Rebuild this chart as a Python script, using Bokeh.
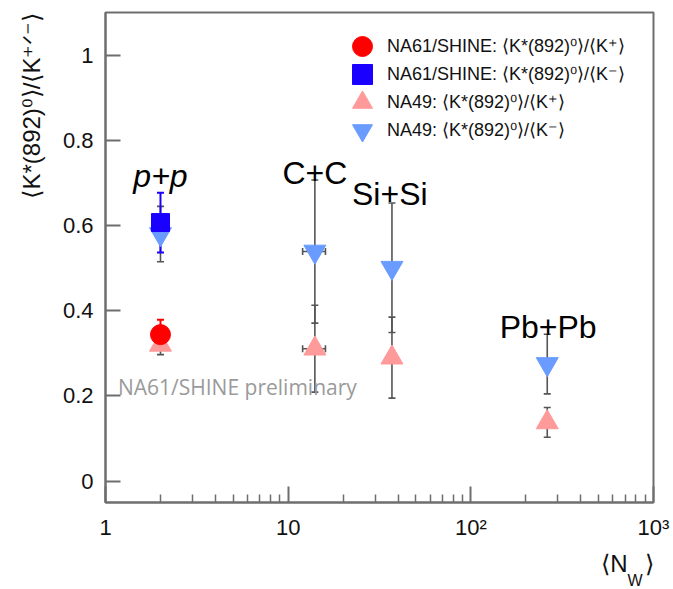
from bokeh.plotting import figure
from bokeh.models import (ColumnDataSource, Whisker, TeeHead, FixedTicker, Label,
                          Legend, LegendItem, Title)
from bokeh.embed import file_html
from bokeh.resources import INLINE

# Collision systems and mean number of wounded nucleons
systems = ["p+p", "C+C", "Si+Si", "Pb+Pb"]
n_wounded = [2.0, 14.0, 37.0, 262.0]
n_wounded_err = [0.0, 2.0, 0.0, 0.0]

# NA61/SHINE p+p ratios
na61_kplus = [0.344]
na61_kplus_err = [0.035]
na61_kminus = [0.607]
na61_kminus_err = [0.070]

# NA49 ratios
na49_kplus = [0.320, 0.311, 0.290, 0.138]
na49_kplus_err = [0.023, 0.102, 0.095, 0.035]
na49_kminus = [0.580, 0.539, 0.501, 0.275]
na49_kminus_err = [0.065, 0.168, 0.152, 0.070]

# System label anchors (x in N_W, y baseline in ratio units)
label_x = [2.0, 14.0, 36.0, 265.0]
label_y = [0.717, 0.724, 0.674, 0.361]

x_ticks = [1, 10, 100, 1000]
x_tick_labels = ["1", "10", "10\u00b2", "10\u00b3"]
y_ticks = [0, 0.2, 0.4, 0.6, 0.8, 1.0]
y_tick_labels = ["0", "0.2", "0.4", "0.6", "0.8", "1"]

RED = "#ff0000"
BLUE = "#1a00ff"
PINK = "#ff9a9a"
LIGHTBLUE = "#6a9cff"
BAR = "#555555"
FRAME = "#6e6e6e"
INK = "#111111"
FONT = "Liberation Sans"

p = figure(width=673, height=589, x_axis_type="log",
           x_range=(1, 1000), y_range=(-0.05, 1.1),
           output_backend="svg", toolbar_location=None,
           min_border_left=105, min_border_right=20,
           min_border_top=12, min_border_bottom=87)
p.grid.visible = False
p.outline_line_color = FRAME
p.outline_line_width = 2

# axes
minor = [m * d for d in (1, 10, 100) for m in range(2, 10)]
p.xaxis.ticker = FixedTicker(ticks=x_ticks, minor_ticks=minor)
p.xaxis.major_label_overrides = {t: s for t, s in zip(x_ticks, x_tick_labels)}
p.yaxis.ticker = FixedTicker(ticks=y_ticks)
p.yaxis.major_label_overrides = {t: s for t, s in zip(y_ticks, y_tick_labels)}
for ax in (p.xaxis, p.yaxis):
    ax.axis_line_color = FRAME
    ax.axis_line_width = 2
    ax.major_tick_line_color = FRAME
    ax.major_tick_line_width = 2
    ax.minor_tick_line_color = FRAME
    ax.minor_tick_line_width = 1.5
    ax.major_tick_out = 0
    ax.minor_tick_out = 0
    ax.major_label_text_font = FONT
    ax.major_label_text_font_size = "22px"
    ax.major_label_text_color = INK
p.xaxis.major_tick_in = 16
p.xaxis.minor_tick_in = 8
p.xaxis.major_label_standoff = 12
p.yaxis.major_tick_in = 15
p.yaxis.minor_tick_line_color = None
p.yaxis.major_label_standoff = 12

# data sources
src_na49_p = ColumnDataSource(dict(
    x=n_wounded, y=na49_kplus,
    lo=[v - e for v, e in zip(na49_kplus, na49_kplus_err)],
    hi=[v + e for v, e in zip(na49_kplus, na49_kplus_err)]))
src_na49_m = ColumnDataSource(dict(
    x=n_wounded, y=na49_kminus,
    lo=[v - e for v, e in zip(na49_kminus, na49_kminus_err)],
    hi=[v + e for v, e in zip(na49_kminus, na49_kminus_err)]))

xerr_rows = [i for i, e in enumerate(n_wounded_err) if e > 0]
src_xerr = ColumnDataSource(dict(
    y=[na49_kminus[i] for i in xerr_rows] + [na49_kplus[i] for i in xerr_rows],
    lo=[n_wounded[i] - n_wounded_err[i] for i in xerr_rows] * 2,
    hi=[n_wounded[i] + n_wounded_err[i] for i in xerr_rows] * 2))

src_na61_p = ColumnDataSource(dict(
    x=n_wounded[:1], y=na61_kplus,
    lo=[na61_kplus[0] - na61_kplus_err[0]], hi=[na61_kplus[0] + na61_kplus_err[0]]))
src_na61_m = ColumnDataSource(dict(
    x=n_wounded[:1], y=na61_kminus,
    lo=[na61_kminus[0] - na61_kminus_err[0]], hi=[na61_kminus[0] + na61_kminus_err[0]]))


def whisker(src, color, dim="height", base="x", width=1.6):
    w = Whisker(source=src, base=base, lower="lo", upper="hi", dimension=dim,
                line_color=color, line_width=width,
                upper_head=TeeHead(size=7, line_color=color, line_width=width),
                lower_head=TeeHead(size=7, line_color=color, line_width=width))
    p.add_layout(w)


# preliminary tag sits under the error bars
p.add_layout(Label(x=1.17, y=0.222, text="NA61/SHINE preliminary",
                   text_font="Open Sans", text_font_size="21px",
                   text_color="#9a9a9a", text_baseline="middle"))

whisker(src_na49_m, BAR)
whisker(src_na49_p, BAR)
whisker(src_xerr, BAR, dim="width", base="y")

r_na49_m = p.scatter("x", "y", source=src_na49_m, marker="inverted_triangle",
                     size=22, color=LIGHTBLUE)
r_na49_p = p.scatter("x", "y", source=src_na49_p, marker="triangle",
                     size=22, color=PINK)

whisker(src_na61_m, BLUE, width=2)
whisker(src_na61_p, RED, width=2)
r_na61_m = p.scatter("x", "y", source=src_na61_m, marker="square",
                     size=18, color=BLUE)
r_na61_p = p.scatter("x", "y", source=src_na61_p, marker="circle",
                     size=20, color=RED)

# system labels
for name, lx, ly in zip(systems, label_x, label_y):
    p.add_layout(Label(x=lx, y=ly, text=name, text_font=FONT,
                       text_font_size="32px", text_align="center",
                       text_color="#000000", text_baseline="alphabetic",
                       text_font_style="italic" if name == "p+p" else "normal"))

# one single-row legend per entry keeps the rows tight with large markers
ratio = "\u27e8K*(892)\u2070\u27e9/\u27e8K{}\u27e9"
entries = [
    ("NA61/SHINE: " + ratio.format("\u207a"), r_na61_p),
    ("NA61/SHINE: " + ratio.format("\u207b"), r_na61_m),
    ("NA49: " + ratio.format("\u207a"), r_na49_p),
    ("NA49: " + ratio.format("\u207b"), r_na49_m),
]
for row, (text, rend) in enumerate(entries):
    p.add_layout(Legend(items=[LegendItem(label=text, renderers=[rend])],
                        location=(232, 431 - 28 * row),
                        glyph_width=50, glyph_height=50, padding=0, margin=0,
                        label_standoff=0, label_text_font=FONT,
                        label_text_font_size="18px", label_text_color=INK,
                        border_line_color=None, background_fill_alpha=0))

# axis titles
p.add_layout(Title(text="\u27e8K*(892)\u2070\u27e9/\u27e8K\u207a\u141f\u207b\u27e9",
                   align="right", text_font=FONT, text_font_size="24px",
                   text_font_style="normal", text_color=INK, standoff=30),
             "left")
p.add_layout(Title(text="\u27e8N\u2002\u2009\u27e9", align="right", offset=0,
                   text_font=FONT, text_font_size="24px",
                   text_font_style="normal", text_color=INK, standoff=10),
             "below")
p.add_layout(Title(text="W", align="right", offset=11, vertical_align="top",
                   text_font=FONT, text_font_size="16px",
                   text_font_style="normal", text_color=INK, standoff=-20),
             "below")

open("out.html", "w").write(file_html(p, INLINE))
